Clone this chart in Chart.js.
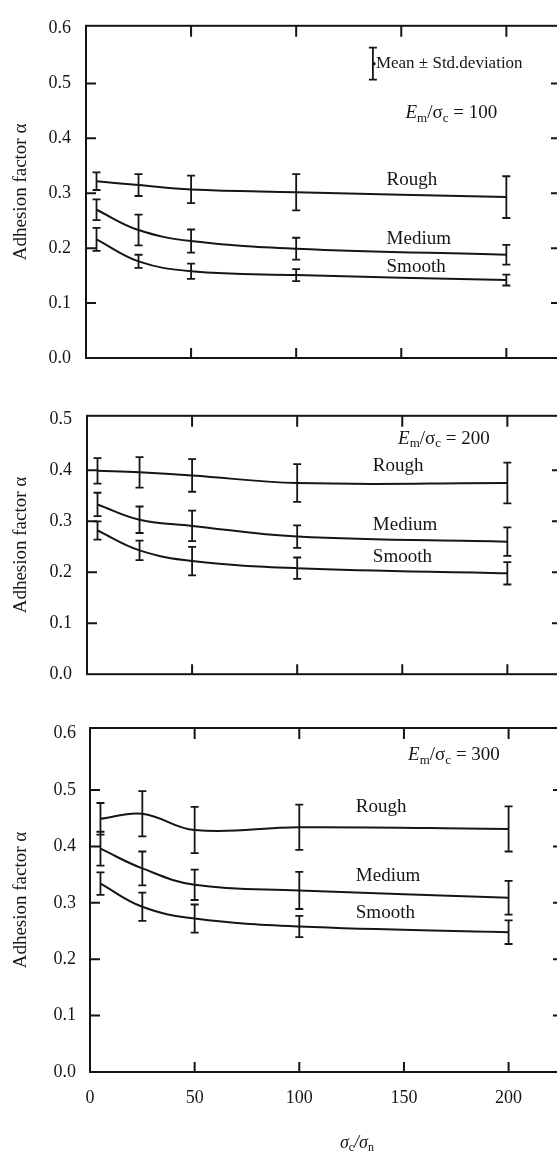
<!DOCTYPE html>
<html>
<head>
<meta charset="utf-8">
<script src="https://cdn.jsdelivr.net/npm/chart.js@4.4.1/dist/chart.umd.min.js"></script>
<style>
  html, body { margin: 0; padding: 0; background: #fff; width: 557px; height: 1153px; overflow: hidden; }
  canvas { position: absolute; left: 0; }
</style>
</head>
<body>
<canvas id="c100" width="580" height="390" style="top:0"></canvas>
<canvas id="c200" width="580" height="310" style="top:390px"></canvas>
<canvas id="c300" width="580" height="453" style="top:700px"></canvas>
<script>
const INK = "#151515";
const FONT = '"Liberation Serif", "Times New Roman", serif';

// sigma_c / sigma_n
const xValues = [5, 25, 50, 100, 200];
const xTicks = [0, 50, 100, 150, 200];
const xTickLabels = ["0", "50", "100", "150", "200"];

const yTicks6 = [0, 0.1, 0.2, 0.3, 0.4, 0.5, 0.6];
const yTicks5 = [0, 0.1, 0.2, 0.3, 0.4, 0.5];

// Em/sigma_c = 100
const rough100 = [0.322, 0.315, 0.307, 0.302, 0.293];
const rough100Sd = [0.016, 0.020, 0.025, 0.033, 0.038];
const medium100 = [0.270, 0.233, 0.213, 0.199, 0.188];
const medium100Sd = [0.019, 0.028, 0.021, 0.020, 0.018];
const smooth100 = [0.216, 0.176, 0.158, 0.151, 0.142];
const smooth100Sd = [0.021, 0.012, 0.014, 0.011, 0.010];

// Em/sigma_c = 200
const rough200 = [0.399, 0.396, 0.390, 0.375, 0.375];
const rough200Sd = [0.025, 0.030, 0.032, 0.037, 0.040];
const medium200 = [0.333, 0.303, 0.291, 0.270, 0.260];
const medium200Sd = [0.023, 0.026, 0.030, 0.022, 0.028];
const smooth200 = [0.282, 0.243, 0.222, 0.208, 0.198];
const smooth200Sd = [0.018, 0.019, 0.028, 0.021, 0.022];

// Em/sigma_c = 300
const rough300 = [0.449, 0.458, 0.429, 0.434, 0.431];
const rough300Sd = [0.028, 0.040, 0.041, 0.040, 0.040];
const medium300 = [0.396, 0.361, 0.332, 0.322, 0.309];
const medium300Sd = [0.030, 0.030, 0.027, 0.033, 0.030];
const smooth300 = [0.334, 0.293, 0.272, 0.258, 0.248];
const smooth300Sd = [0.020, 0.025, 0.025, 0.019, 0.021];

function ratioText(value) {
  return [["E", "i"], ["m", "sub"], ["/σ", ""], ["c", "sub"], [" = " + value, ""]];
}

// draws a run of text pieces, some italic, some lowered as subscripts
function drawRich(ctx, parts, x, y, size) {
  let cx = x;
  parts.forEach(([text, kind]) => {
    const fs = kind === "sub" ? Math.round(size * 0.68) : size;
    ctx.font = (kind === "i" ? "italic " : "") + fs + "px " + FONT;
    ctx.fillText(text, cx, kind === "sub" ? y + size * 0.28 : y);
    cx += ctx.measureText(text).width;
  });
  return cx - x;
}

const panelDecor = {
  id: "panelDecor",
  afterDatasetsDraw(chart, args, opts) {
    const { ctx, chartArea: a } = chart;
    const xs = chart.scales.x;
    const ys = chart.scales.y;
    ctx.save();
    ctx.strokeStyle = INK;
    ctx.fillStyle = INK;
    ctx.lineWidth = 2;
    ctx.strokeRect(a.left, a.top, a.width, a.height);

    // inward ticks on all four sides
    ctx.beginPath();
    xTicks.forEach((v) => {
      if (v <= xs.min) return;
      const px = xs.getPixelForValue(v);
      ctx.moveTo(px, a.top);
      ctx.lineTo(px, a.top + 11);
      ctx.moveTo(px, a.bottom);
      ctx.lineTo(px, a.bottom - 10);
    });
    opts.yTicks.forEach((v) => {
      if (v <= ys.min || v >= ys.max - 0.02) return;
      const py = ys.getPixelForValue(v);
      ctx.moveTo(a.left, py);
      ctx.lineTo(a.left + 10, py);
      ctx.moveTo(a.right, py);
      ctx.lineTo(a.right - 10, py);
    });
    ctx.stroke();

    // error bars: mean +- std
    ctx.lineWidth = 1.8;
    ctx.beginPath();
    chart.data.datasets.forEach((ds, i) => {
      const meta = chart.getDatasetMeta(i);
      ds.sd.forEach((s, j) => {
        const px = meta.data[j].x;
        const yHi = ys.getPixelForValue(ds.data[j].y + s);
        const yLo = ys.getPixelForValue(ds.data[j].y - s);
        ctx.moveTo(px, yHi);
        ctx.lineTo(px, yLo);
        ctx.moveTo(px - 4, yHi);
        ctx.lineTo(px + 4, yHi);
        ctx.moveTo(px - 4, yLo);
        ctx.lineTo(px + 4, yLo);
      });
    });
    ctx.stroke();

    ctx.textBaseline = "middle";
    ctx.textAlign = "left";
    opts.notes.forEach((n) => {
      drawRich(ctx, n.parts, xs.getPixelForValue(n.x), ys.getPixelForValue(n.y), n.size);
    });

    if (opts.legendAt) {
      const px = xs.getPixelForValue(opts.legendAt.x);
      const py = ys.getPixelForValue(opts.legendAt.y);
      ctx.beginPath();
      ctx.moveTo(px, py - 16);
      ctx.lineTo(px, py + 16);
      ctx.moveTo(px - 4, py - 16);
      ctx.lineTo(px + 4, py - 16);
      ctx.moveTo(px - 4, py + 16);
      ctx.lineTo(px + 4, py + 16);
      ctx.stroke();
      ctx.beginPath();
      ctx.arc(px + 1, py, 1.8, 0, Math.PI * 2);
      ctx.fill();
      ctx.font = "17px " + FONT;
      ctx.fillText("Mean ± Std.deviation", px + 3, py);
    }

    if (opts.xTitle) {
      const parts = [["σ", "i"], ["c", "sub"], ["/σ", "i"], ["n", "sub"]];
      const px = xs.getPixelForValue(opts.xTitle.x) - 18;
      drawRich(ctx, parts, px, a.bottom + opts.xTitle.dy, 18);
    }
    ctx.restore();
  },
};

function makeSeries(values, sd) {
  return {
    data: xValues.map((x, i) => ({ x: x, y: values[i] })),
    sd: sd,
    borderColor: INK,
    borderWidth: 2,
    pointRadius: 0,
    tension: 0.4,
    fill: false,
  };
}

function labelNotes(x, yRough, yMedium, ySmooth) {
  return [
    { parts: [["Rough", ""]], x: x, y: yRough, size: 19 },
    { parts: [["Medium", ""]], x: x, y: yMedium, size: 19 },
    { parts: [["Smooth", ""]], x: x, y: ySmooth, size: 19 },
  ];
}

const panels = [
  {
    id: "c100", height: 390, areaTop: 16, areaBottom: 358, areaLeft: 86, padRight: 19,
    yMax: 0.605, yTicks: yTicks6, tickPad: 15, showX: false,
    series: [makeSeries(rough100, rough100Sd), makeSeries(medium100, medium100Sd), makeSeries(smooth100, smooth100Sd)],
    notes: labelNotes(143, 0.324, 0.216, 0.165).concat([{ parts: ratioText(100), x: 152, y: 0.446, size: 19 }]),
    legendAt: { x: 136.5, y: 0.536 },
  },
  {
    id: "c200", height: 310, areaTop: 13, areaBottom: 294, areaLeft: 87, padRight: 18,
    yMax: 0.507, yTicks: yTicks5, tickPad: 15, showX: false,
    series: [makeSeries(rough200, rough200Sd), makeSeries(medium200, medium200Sd), makeSeries(smooth200, smooth200Sd)],
    notes: labelNotes(136, 0.408, 0.292, 0.229).concat([{ parts: ratioText(200), x: 148, y: 0.462, size: 19 }]),
  },
  {
    id: "c300", height: 453, areaTop: 28, areaBottom: 372, areaLeft: 90, padRight: 17,
    yMax: 0.61, yTicks: yTicks6, tickPad: 14, showX: true,
    series: [makeSeries(rough300, rough300Sd), makeSeries(medium300, medium300Sd), makeSeries(smooth300, smooth300Sd)],
    notes: labelNotes(127, 0.47, 0.348, 0.282).concat([{ parts: ratioText(300), x: 152, y: 0.562, size: 19 }]),
    xTitle: { x: 128, dy: 71 },
  },
];

panels.forEach((p) => {
  const xHeight = p.showX ? p.height - p.areaBottom : 0;
  new Chart(document.getElementById(p.id), {
    type: "line",
    data: { datasets: p.series },
    options: {
      responsive: false,
      animation: false,
      layout: {
        padding: {
          top: p.areaTop,
          left: 10,
          right: p.padRight,
          bottom: p.showX ? 0 : p.height - p.areaBottom,
        },
      },
      plugins: {
        legend: { display: false },
        tooltip: { enabled: false },
        panelDecor: {
          yTicks: p.yTicks,
          notes: p.notes,
          legendAt: p.legendAt,
          xTitle: p.xTitle,
        },
      },
      scales: {
        x: {
          type: "linear",
          min: 0,
          max: 226,
          afterBuildTicks: (s) => { s.ticks = xTicks.map((v) => ({ value: v })); },
          afterFit: (s) => { s.height = xHeight; },
          grid: { display: false, drawTicks: false },
          border: { display: false },
          ticks: {
            display: p.showX,
            padding: 15,
            maxRotation: 0,
            color: INK,
            font: { family: FONT, size: 18 },
            callback: (v, i) => xTickLabels[i],
          },
        },
        y: {
          min: 0,
          max: p.yMax,
          afterBuildTicks: (s) => { s.ticks = p.yTicks.map((v) => ({ value: v })); },
          afterFit: (s) => { s.width = p.areaLeft - 10; },
          grid: { display: false, drawTicks: false },
          border: { display: false },
          ticks: {
            padding: p.tickPad,
            color: INK,
            font: { family: FONT, size: 18 },
            callback: (v) => v.toFixed(1),
          },
          title: {
            display: true,
            text: "Adhesion factor α",
            color: INK,
            font: { family: FONT, size: 19 },
            padding: { top: 0, bottom: 0 },
          },
        },
      },
    },
    plugins: [panelDecor],
  });
});
</script>
</body>
</html>
